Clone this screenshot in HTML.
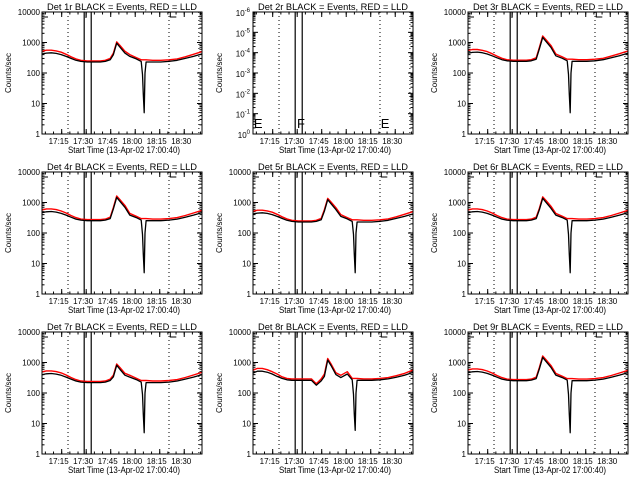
<!DOCTYPE html>
<html><head><meta charset="utf-8"><style>
html,body{margin:0;padding:0;background:#fff;}
svg{display:block;font-family:"Liberation Sans",sans-serif;}
</style></head><body>
<svg id="c" width="640" height="480" viewBox="0 0 640 480"></svg>
<script>
// time in minutes since 17:00:40
const times=[2.3,5,8,11,14,17,20,23,26,30,34,38,41,44,46,48,50,53,56,60,63,63.8,64.3,64.8,65.3,66,70,75,80,85,90,95,100];
const baseBlack=[420,450,460,440,400,350,300,260,240,230,230,230,240,270,400,950,700,450,350,290,240,90,20,5,100,230,230,230,240,260,300,350,420];
const baseRed=[520,560,560,530,480,410,340,290,260,250,250,250,260,300,450,1050,800,520,400,320,270,270,270,270,270,270,260,260,270,290,340,410,500];
const p8Black=[450,520,520,480,420,350,300,270,260,260,260,260,180,250,350,1200,800,400,320,420,270,90,20,6,100,260,260,260,270,290,330,380,470];
const p8Red=[560,640,640,580,500,420,340,300,290,290,290,290,200,290,420,1350,900,460,380,500,300,300,300,300,300,300,290,290,300,320,370,440,560];
const detNames=["1r","2r","3r","4r","5r","6r","7r","8r","9r"];
const peakScale=[1.0,0,1.55,1.55,1.3,1.45,0.85,1,1.55];
const levelScale=[1.0,0,1.05,1.1,1.0,1.1,0.95,1,1.1];
const tickLabels=["17:15","17:30","17:45","18:00","18:15","18:30"];
const tickMinutes=[14.33,29.33,44.33,59.33,74.33,89.33];
const dottedMinutes=[18.2,80,98.3];
const solidMinutes=[28.1,32.4];
const yTickLabels=["1","10","100","1000","10000"];

const NS="http://www.w3.org/2000/svg";
const svg=document.getElementById('c');
function mk(tag,attrs,parent){const e=document.createElementNS(NS,tag);for(const k in attrs)e.setAttribute(k,attrs[k]);(parent||svg).appendChild(e);return e;}
const colX=[42,253,468], W=160, H=122, TMIN=2.28, TMAX=100.2;

for(let p=0;p<9;p++){
  const X0=colX[p%3], Y0=12+160*Math.floor(p/3);
  const g=mk('g',{});
  
  
  const xs=m=>X0+(m-TMIN)/(TMAX-TMIN)*W;
  const ys=v=>Y0+H-Math.log10(v)/4*H;
  const t=mk('text',{x:X0+W/2,y:Y0-2,'font-size':'9.5','text-anchor':'middle',textLength:'150',lengthAdjust:'spacingAndGlyphs'},g);
  t.textContent='Det '+detNames[p]+' BLACK = Events, RED = LLD';
  
  
  const yt=mk('text',{x:0,y:0,'font-size':'8','text-anchor':'middle',transform:`translate(${X0-31},${Y0+H/2}) rotate(-90)`},g);
  yt.textContent='Counts/sec';
  
  
  const xt=mk('text',{x:X0+W/2+2,y:Y0+H+19,'font-size':'9','text-anchor':'middle',textLength:'112',lengthAdjust:'spacingAndGlyphs'},g);
  xt.textContent='Start Time (13-Apr-02 17:00:40)';
  
  
  tickMinutes.forEach((m,i)=>{
    const x=xs(m);
    mk('line',{x1:x,x2:x,y1:Y0+H,y2:Y0+H-5,stroke:'#000'},g);
    mk('line',{x1:x,x2:x,y1:Y0,y2:Y0+5,stroke:'#000'},g);
    const tl=mk('text',{x:x-3,y:Y0+H+10,'font-size':'8','text-anchor':'middle'},g);
    tl.textContent=tickLabels[i];
    
    
  });
  for(let m=4.33;m<TMAX;m+=5){const x=xs(m);mk('line',{x1:x,x2:x,y1:Y0+H,y2:Y0+H-2.5,stroke:'#000'},g);mk('line',{x1:x,x2:x,y1:Y0,y2:Y0+2.5,stroke:'#000'},g);}
  if(p===1){
    const labs=["-6","-5","-4","-3","-2","-1","0"];
    labs.forEach((e,i)=>{
      const y=Y0+i*H/6;
      mk('line',{x1:X0,x2:X0+5,y1:y,y2:y,stroke:'#000'},g);
      mk('line',{x1:X0+W,x2:X0+W-5,y1:y,y2:y,stroke:'#000'},g);
      const tl=mk('text',{x:X0-3,y:y+4,'font-size':'8','text-anchor':'end'},g);
      tl.innerHTML='10<tspan dy="-4" font-size="6">'+e+'</tspan>';
      
      
      if(i<6)for(let k=2;k<10;k++){const yy=y+H/6-Math.log10(k)*H/6;mk('line',{x1:X0,x2:X0+2.5,y1:yy,y2:yy,stroke:'#000'},g);mk('line',{x1:X0+W,x2:X0+W-2.5,y1:yy,y2:yy,stroke:'#000'},g);}
    });
  } else {
    yTickLabels.forEach((l,i)=>{
      const y=ys(Math.pow(10,i));
      mk('line',{x1:X0,x2:X0+5,y1:y,y2:y,stroke:'#000'},g);
      mk('line',{x1:X0+W,x2:X0+W-5,y1:y,y2:y,stroke:'#000'},g);
      const tl=mk('text',{x:X0-2,y:y+3,'font-size':'8','text-anchor':'end'},g);
      tl.textContent=l;
      
      
      if(i<4)for(let k=2;k<10;k++){const yy=ys(k*Math.pow(10,i));mk('line',{x1:X0,x2:X0+2.5,y1:yy,y2:yy,stroke:'#000'},g);mk('line',{x1:X0+W,x2:X0+W-2.5,y1:yy,y2:yy,stroke:'#000'},g);}
    });
  }
  dottedMinutes.forEach(m=>{const x=xs(m);mk('line',{x1:x,x2:x,y1:Y0,y2:Y0+H,stroke:'#000','stroke-dasharray':'1,3'},g);});
  solidMinutes.forEach(m=>{const x=xs(m);mk('line',{x1:x,x2:x,y1:Y0,y2:Y0+H,stroke:'#000','stroke-width':'1.2'},g);});
  if(p===1){
    [[2.8,'E'],[29.2,'F'],[80.5,'E']].forEach(([m,s])=>{
      const e=mk('text',{x:xs(m),y:Y0+H-6,'font-size':'13'},g);e.textContent=s;
      
      
    });
  } else {
    mk('path',{d:`M${X0+6} ${Y0+5}H${X0+1}`,stroke:'#000',fill:'none'},g);
    const bx=xs(80.8);
    mk('path',{d:`M${bx+6} ${Y0+5}H${bx}V${Y0}`,stroke:'#000',fill:'none'},g);
    const fx=xs(29.2);
    mk('path',{d:`M${fx} ${Y0+6}V${Y0}H${fx+4}`,stroke:'#000',fill:'none'},g);
    let blk,red;
    if(p===7){blk=p8Black;red=p8Red;}
    else{
      const pk=peakScale[p], lv=levelScale[p];
      blk=baseBlack.map((v,i)=>(i>=14&&i<=17?v*pk:v*lv));
      blk=blk.map((v,i)=>(i>=21&&i<=24?baseBlack[i]:v));
      red=baseRed.map((v,i)=>(i>=14&&i<=17?v*pk:v*lv));
    }
    const path=arr=>arr.map((v,i)=>(i?'L':'M')+xs(times[i]).toFixed(1)+' '+ys(v).toFixed(1)).join('');
    const rp=mk('path',{d:path(red),stroke:'#ff0000','stroke-width':'1.4',fill:'none','stroke-linejoin':'round'},g);
    
    
    const bp=mk('path',{d:path(blk),stroke:'#000','stroke-width':'1.3',fill:'none','stroke-linejoin':'round'},g);
    
    
  }
  const b=mk('rect',{x:X0,y:Y0,width:W,height:H,fill:'none',stroke:'#000'},g);
  
  
}
</script>
</body></html>
